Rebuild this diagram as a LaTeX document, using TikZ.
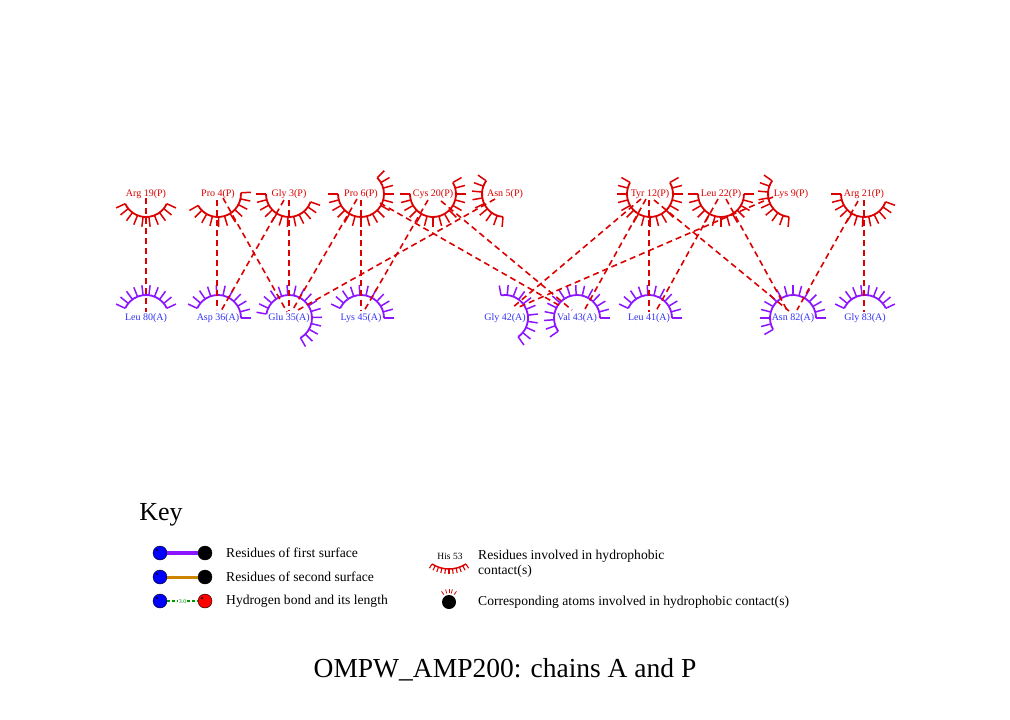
\documentclass[tikz,border=0pt]{standalone}
\usepackage{fontspec}
\setmainfont{Liberation Serif}
\usetikzlibrary{calc}
\definecolor{hred}{RGB}{220,0,0}
\definecolor{apurple}{RGB}{140,20,255}
\definecolor{ablue}{RGB}{50,50,245}
\definecolor{korange}{RGB}{205,133,0}
\definecolor{kgreen}{RGB}{0,150,0}
\newcommand\hphob[4]{%
  \draw[#1, line width=1.8pt] ($#2+(#3:23)$) arc[start angle=#3, end angle=#4, radius=23];
  \pgfmathtruncatemacro\hpn{max(1,round(abs(#4-#3)/15))}%
  \foreach \k in {0,...,\hpn}{%
    \pgfmathsetmacro\hpa{#3+(#4-#3)*\k/\hpn}%
    \draw[#1, line width=1.5pt] ($#2+(\hpa:23)$) -- ($#2+(\hpa:33)$);
  }%
}
\tikzset{
  plabel/.style={text=hred, font=\fontsize{10}{12}\selectfont, inner sep=0pt},
  alabel/.style={text=ablue, font=\fontsize{10}{12}\selectfont, inner sep=0pt},
  contact/.style={hred, line width=1.6pt, dash pattern=on 6pt off 4pt},
  keytext/.style={font=\fontsize{13.6}{15}\selectfont, anchor=west, inner sep=0pt, align=left},
  katom/.style={circle, draw=black, line width=0.4pt, minimum size=14pt, inner sep=0pt},
}
\begin{document}
\begin{tikzpicture}[x=1pt,y=-1pt]
\useasboundingbox[fill=white] (0,0) rectangle (1010,720);

% ---- chain P residues (top) ----
\hphob{hred}{(146,194)}{25}{155}
\hphob{hred}{(218,194)}{-3}{150}
\hphob{hred}{(289,194)}{20}{180}
\hphob{hred}{(361,194)}{-45}{180}
\hphob{hred}{(433,194)}{-30}{180}
\hphob{hred}{(505,194)}{95}{215}
\hphob{hred}{(650,194)}{-30}{210}
\hphob{hred}{(721,194)}{0}{180}
\hphob{hred}{(791,194)}{95}{215}
\hphob{hred}{(864,194)}{20}{180}

% ---- chain A residues (bottom) ----
\hphob{apurple}{(146,318)}{205}{335}
\hphob{apurple}{(218,318)}{205}{360}
\hphob{apurple}{(289,318)}{190}{420}
\hphob{apurple}{(361,318)}{205}{360}
\hphob{apurple}{(505,318)}{260}{415}
\hphob{apurple}{(577,318)}{145}{360}
\hphob{apurple}{(649,318)}{205}{360}
\hphob{apurple}{(793,318)}{150}{360}
\hphob{apurple}{(865,318)}{205}{335}

% ---- contact atoms ----
\coordinate (arg19a) at (146,198);
\coordinate (pro4a) at (217,200);
\coordinate (pro4b) at (223,198);
\coordinate (gly3a) at (284,200);
\coordinate (gly3b) at (289,200);
\coordinate (pro6a) at (357,199);
\coordinate (pro6b) at (361,200);
\coordinate (pro6c) at (380,203);
\coordinate (cys20a) at (428,200);
\coordinate (cys20b) at (441,201);
\coordinate (asn5a) at (495,199);
\coordinate (tyr12a) at (641,199);
\coordinate (tyr12b) at (646,199);
\coordinate (tyr12c) at (649,200);
\coordinate (tyr12d) at (654,200);
\coordinate (leu22a) at (718,199);
\coordinate (leu22b) at (726,199);
\coordinate (lys9a) at (773,197);
\coordinate (arg21a) at (858,201);
\coordinate (arg21b) at (864,200);

\coordinate (leu80a) at (146,312);
\coordinate (asp36a) at (217,310);
\coordinate (asp36b) at (221,311);
\coordinate (glu35a) at (287,312);
\coordinate (glu35b) at (289,311);
\coordinate (glu35c) at (292,311);
\coordinate (glu35d) at (298,310);
\coordinate (lys45a) at (361,311);
\coordinate (lys45b) at (364,311);
\coordinate (gly42a) at (512,308);
\coordinate (gly42b) at (519,307);
\coordinate (val43a) at (562,307);
\coordinate (val43b) at (572,310);
\coordinate (val43c) at (585,309);
\coordinate (leu41a) at (649,312);
\coordinate (leu41b) at (656,311);
\coordinate (asn82a) at (787,310);
\coordinate (asn82b) at (789,311);
\coordinate (asn82c) at (797,310);
\coordinate (gly83a) at (864,312);

% ---- hydrophobic contacts ----
\draw[contact] (arg19a) -- (leu80a);
\draw[contact] (pro4a) -- (asp36a);
\draw[contact] (pro4b) -- (glu35a);
\draw[contact] (gly3a) -- (asp36b);
\draw[contact] (gly3b) -- (glu35b);
\draw[contact] (pro6a) -- (glu35c);
\draw[contact] (pro6b) -- (lys45a);
\draw[contact] (pro6c) -- (val43a);
\draw[contact] (cys20a) -- (lys45b);
\draw[contact] (cys20b) -- (val43b);
\draw[contact] (asn5a) -- (glu35d);
\draw[contact] (tyr12a) -- (gly42a);
\draw[contact] (tyr12b) -- (val43c);
\draw[contact] (tyr12c) -- (leu41a);
\draw[contact] (tyr12d) -- (asn82b);
\draw[contact] (leu22a) -- (leu41b);
\draw[contact] (leu22b) -- (asn82a);
\draw[contact] (lys9a) -- (gly42b);
\draw[contact] (arg21a) -- (asn82c);
\draw[contact] (arg21b) -- (gly83a);

% ---- labels ----
\node[plabel] (arg19) at (146,194) {Arg 19(P)};
\node[plabel] (pro4) at (218,194) {Pro 4(P)};
\node[plabel] (gly3) at (289,194) {Gly 3(P)};
\node[plabel] (pro6) at (361,194) {Pro 6(P)};
\node[plabel] (cys20) at (433,194) {Cys 20(P)};
\node[plabel] (asn5) at (505,194) {Asn 5(P)};
\node[plabel] (tyr12) at (650,194) {Tyr 12(P)};
\node[plabel] (leu22) at (721,194) {Leu 22(P)};
\node[plabel] (lys9) at (791,194) {Lys 9(P)};
\node[plabel] (arg21) at (864,194) {Arg 21(P)};

\node[alabel] (leu80) at (146,318) {Leu 80(A)};
\node[alabel] (asp36) at (218,318) {Asp 36(A)};
\node[alabel] (glu35) at (289,318) {Glu 35(A)};
\node[alabel] (lys45) at (361,318) {Lys 45(A)};
\node[alabel] (gly42) at (505,318) {Gly 42(A)};
\node[alabel] (val43) at (577,318) {Val 43(A)};
\node[alabel] (leu41) at (649,318) {Leu 41(A)};
\node[alabel] (asn82) at (793,318) {Asn 82(A)};
\node[alabel] (gly83) at (865,318) {Gly 83(A)};

% ---- key ----
\node[font=\fontsize{26}{30}\selectfont, inner sep=0pt] (key) at (161,515) {Key};

\node[katom, fill=blue] (k1a) at (160,553) {};
\node[katom, fill=black] (k1b) at (205,553) {};
\draw[apurple, line width=4.5pt] (k1a) -- (k1b);
\node[katom, fill=blue] (k2a) at (160,577) {};
\node[katom, fill=black] (k2b) at (205,577) {};
\draw[korange, line width=3pt] (k2a) -- (k2b);
\node[katom, fill=blue] (k3a) at (160,601) {};
\node[katom, fill=red] (k3b) at (205,601) {};
\draw[kgreen, line width=1.5pt, dash pattern=on 3pt off 2pt] (k3a) -- (k3b);
\node[fill=white, text=kgreen, font=\fontsize{6}{7}\selectfont, inner sep=0.3pt] (k3t) at (182.5,601.5) {3.0};
\foreach \n in {k1a,k2a,k3a,k3b}{\fill[black] ($(\n)+(-3,-3)$) circle[radius=1.1];}

\node[keytext] (t1) at (226,553) {Residues of first surface};
\node[keytext] (t2) at (226,577) {Residues of second surface};
\node[keytext] (t3) at (226,601) {Hydrogen bond and its length};

\node[font=\fontsize{9.5}{11}\selectfont, inner sep=0pt] (his) at (450,556) {His 53};
\draw[hred, line width=1.5pt] ($(449,538)+(57:31)$) arc[start angle=57, end angle=123, radius=31];
\foreach \a in {57,63.6,70.2,76.8,83.4,90,96.6,103.2,109.8,116.4,123}{
  \draw[hred, line width=1.1pt] ($(449,538)+(\a:31)$) -- ($(449,538)+(\a:36)$);
}
\node[keytext] (t4) at (478,563.5) {Residues involved in hydrophobic\\contact(s)};

\node[circle, fill=black, minimum size=14pt, inner sep=0pt] (hatom) at (449,602) {};
\foreach \a in {235,255,270,285,305}{
  \draw[hred, line width=0.8pt] ($(hatom)+(\a:9)$) -- ($(hatom)+(\a:13)$);
}
\node[keytext] (t5) at (478,602) {Corresponding atoms involved in hydrophobic contact(s)};

\node[font=\fontsize{27.5}{32}\selectfont, inner sep=0pt] (title) at (505,670) {OMPW\_AMP200: chains A and P};
\end{tikzpicture}
\end{document}
